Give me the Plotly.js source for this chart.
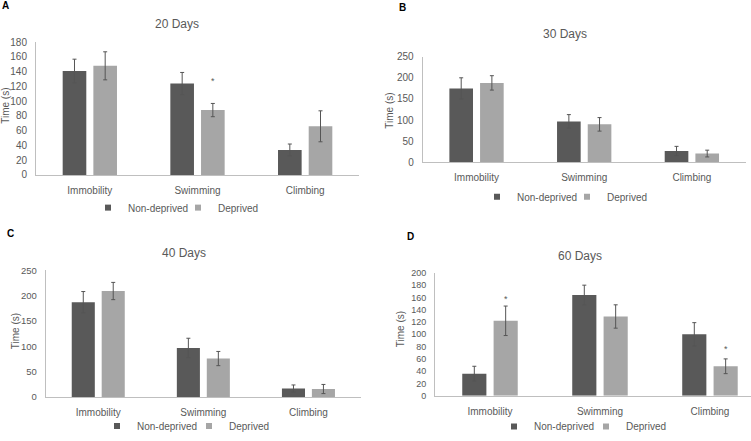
<!DOCTYPE html>
<html>
<head>
<meta charset="utf-8">
<script src="https://cdn.plot.ly/plotly-3.0.1.min.js"></script>
<style>html,body{margin:0;padding:0;background:#fff}#chart{width:751px;height:441px}</style>
</head>
<body>
<div id="chart"></div>
<script>
const categories = ['Immobility', 'Swimming', 'Climbing'];
const seriesNames = ['Non-deprived', 'Deprived'];
const yTitle = 'Time (s)';

// Panel A: 20 Days
const nd20 = [141, 124, 34];
const nd20Err = [16, 15, 8];
const d20 = [148, 88, 66];
const d20Err = [19, 9, 21];
// Panel B: 30 Days
const nd30 = [175, 97, 27];
const nd30Err = [25, 16, 11];
const d30 = [188, 90, 21];
const d30Err = [17, 16, 8];
// Panel C: 40 Days
const nd40 = [187, 97, 17];
const nd40Err = [21, 19, 7];
const d40 = [209, 76, 16];
const d40Err = [17, 14, 9];
// Panel D: 60 Days
const nd60 = [36, 164, 100];
const nd60Err = [12, 16, 19];
const d60 = [122, 129, 48];
const d60Err = [24, 19, 12];

const panelTitles = ['20 Days', '30 Days', '40 Days', '60 Days'];
const panelLetters = ['A', 'B', 'C', 'D'];
// significance stars: [panel index, category index, y value]
const stars = [[0, 1, 127], [3, 0, 157], [3, 2, 76]];

const darkGrey = '#595959';
const lightGrey = '#a6a6a6';
const textGrey = '#595959';
const errColor = '#555555';
const FONT = 'Liberation Sans, Arial, sans-serif';

const panels = [
  {nd: nd20, ndE: nd20Err, d: d20, dE: d20Err},
  {nd: nd30, ndE: nd30Err, d: d30, dE: d30Err},
  {nd: nd40, ndE: nd40Err, d: d40, dE: d40Err},
  {nd: nd60, ndE: nd60Err, d: d60, dE: d60Err}
];

const W = 751, H = 441;
const px = v => v / W;
const py = v => 1 - v / H;
const legKey = n => n === 1 ? 'legend' : 'legend' + n;

const traces = [];
panels.forEach((p, i) => {
  const xa = i === 0 ? 'x' : 'x' + (i + 1);
  const ya = i === 0 ? 'y' : 'y' + (i + 1);
  traces.push({
    type: 'bar', x: categories, y: p.nd, xaxis: xa, yaxis: ya, name: seriesNames[0],
    marker: {color: darkGrey}, showlegend: false, offsetgroup: 'a' + i,
    error_y: {type: 'data', array: p.ndE, visible: true, color: errColor, thickness: 1, width: 2}
  });
  traces.push({
    type: 'bar', x: categories, y: p.d, xaxis: xa, yaxis: ya, name: seriesNames[1],
    marker: {color: lightGrey}, showlegend: false, offsetgroup: 'b' + i,
    error_y: {type: 'data', array: p.dE, visible: true, color: errColor, thickness: 1, width: 2}
  });
  // legend entries (one legend box per entry so each can sit where the original puts it)
  traces.push({type: 'scatter', mode: 'markers', x: [null], y: [null], xaxis: xa, yaxis: ya,
    name: seriesNames[0], legend: legKey(2 * i + 1), marker: {symbol: 'square', size: 6, color: darkGrey}});
  traces.push({type: 'scatter', mode: 'markers', x: [null], y: [null], xaxis: xa, yaxis: ya,
    name: seriesNames[1], legend: legKey(2 * i + 2), marker: {symbol: 'square', size: 6, color: lightGrey}});
});

function xaxisCfg(domain, range, anchor, fs) {
  return {domain: domain, range: range, anchor: anchor, type: 'category',
    showline: true, linecolor: '#bfbfbf', linewidth: 1, showgrid: false, zeroline: false,
    ticks: '', ticklabelstandoff: 6, tickfont: {family: FONT, size: fs, color: textGrey}, fixedrange: true};
}
function yaxisCfg(domain, range, dtick, anchor, fs) {
  return {domain: domain, range: range, dtick: dtick, anchor: anchor,
    showline: true, linecolor: '#bfbfbf', linewidth: 1, showgrid: false, zeroline: false,
    ticks: '', ticklabelstandoff: 6, tickfont: {family: FONT, size: fs, color: textGrey},
    fixedrange: true};
}

const layout = {
  width: W, height: H,
  margin: {l: 0, r: 0, t: 0, b: 0},
  paper_bgcolor: '#ffffff', plot_bgcolor: '#ffffff',
  font: {family: FONT, color: textGrey},
  bargap: 0.43, bargroupgap: 0.23, barmode: 'group',
  showlegend: true,
  xaxis: xaxisCfg([px(36), px(359)], [-0.5, 2.5], 'y', 10),
  yaxis: yaxisCfg([py(177), py(42.7)], [0, 180], 20, 'x', 10),
  xaxis2: xaxisCfg([px(422.7), px(745.7)], [-0.5, 2.5], 'y2', 10),
  yaxis2: yaxisCfg([py(164.3), py(57.3)], [0, 250], 50, 'x2', 10),
  xaxis3: xaxisCfg([px(45.7), px(361)], [-0.5, 2.5], 'y3', 10),
  yaxis3: yaxisCfg([py(401.7), py(273.3)], [0, 250], 50, 'x3', 9.5),
  xaxis4: xaxisCfg([px(435), 1], [-0.5, 2.373], 'y4', 10),
  yaxis4: yaxisCfg([py(400.3), py(276)], [0, 200], 20, 'x4', 9),
  annotations: []
};

// label start x and centre y of each legend entry
const legendPos = [[128, 210], [218, 210], [517, 199], [607, 199],
                   [137, 431], [229, 431], [534, 431.5], [626, 431.5]];
legendPos.forEach((lp, k) => {
  layout[legKey(k + 1)] = {orientation: 'h', x: px(lp[0] - 40), y: py(lp[1]), xanchor: 'left', yanchor: 'middle',
    font: {family: FONT, size: 10, color: textGrey}, bgcolor: 'rgba(0,0,0,0)', itemwidth: 30,
    tracegroupgap: 0, itemclick: false, itemdoubleclick: false};
});

const titlePos = [[177, 24], [565, 34], [184, 255.7], [580, 259]];
titlePos.forEach((tp, i) => {
  layout.annotations.push({text: panelTitles[i], xref: 'paper', yref: 'paper', x: px(tp[0]), y: py(tp[1]),
    xanchor: 'center', yanchor: 'middle', showarrow: false, font: {family: FONT, size: 12, color: textGrey}});
});
// y-axis titles
const yTitlePos = [[6, 107], [390, 112], [15, 335], [400, 333]];
yTitlePos.forEach(tp => {
  layout.annotations.push({text: yTitle, xref: 'paper', yref: 'paper', x: px(tp[0]), y: py(tp[1]),
    xanchor: 'center', yanchor: 'middle', textangle: -90, showarrow: false,
    font: {family: FONT, size: 10, color: textGrey}});
});
const letterPos = [[5.5, 5.5], [402, 8], [10.7, 236.3], [410, 239.3]];
letterPos.forEach((lp, i) => {
  layout.annotations.push({text: '<b>' + panelLetters[i] + '</b>', xref: 'paper', yref: 'paper', x: px(lp[0]), y: py(lp[1]),
    xanchor: 'center', yanchor: 'middle', showarrow: false, font: {family: FONT, size: 10, color: '#000000'}});
});
stars.forEach(s => {
  const i = s[0];
  const xr = i === 0 ? 'x' : 'x' + (i + 1);
  const yr = i === 0 ? 'y' : 'y' + (i + 1);
  layout.annotations.push({text: '*', xref: xr, yref: yr, x: s[1] + (1 - layout.bargap) / 4, y: s[2],
    xanchor: 'center', yanchor: 'middle', showarrow: false, font: {family: FONT, size: 9, color: textGrey}});
});

Plotly.newPlot('chart', traces, layout, {displayModeBar: false, staticPlot: true});
</script>
</body>
</html>
